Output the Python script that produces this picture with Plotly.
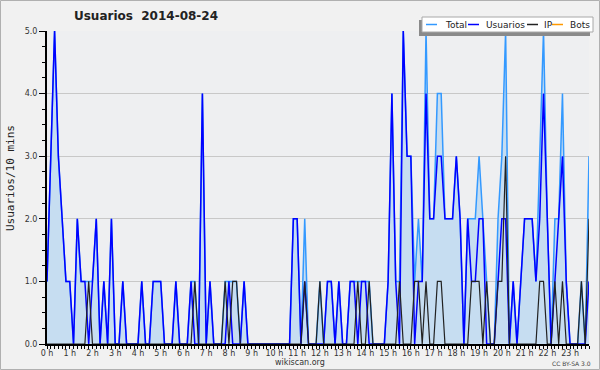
import plotly.graph_objects as go

# 10-minute slots over the day (144 slots)
slots = list(range(144))
hour_ticks = list(range(0, 144, 6))
hour_labels = [f"{h} h" for h in range(24)]

usuarios = [
    1, 3, 5, 3, 2, 1, 1, 0, 2, 1, 1, 0,
    1, 2, 0, 1, 0, 2, 0, 0, 1, 0, 0, 0,
    0, 1, 0, 0, 1, 1, 1, 0, 0, 0, 1, 0,
    0, 0, 1, 0, 0, 4, 0, 1, 0, 0, 0, 0,
    1, 0, 0, 0, 1, 0, 0, 0, 0, 0, 0, 0,
    0, 0, 0, 0, 0, 2, 2, 0, 1, 0, 0, 0,
    0, 0, 1, 1, 0, 1, 0, 0, 1, 1, 0, 1,
    1, 0, 0, 0, 0, 0, 1, 4, 1, 0, 5, 3,
    3, 0, 1, 1, 4, 2, 2, 3, 3, 2, 2, 2,
    3, 2, 0, 2, 1, 1, 2, 2, 0, 0, 0, 1,
    2, 2, 0, 1, 0, 1, 2, 2, 2, 1, 2, 4,
    2, 0, 1, 2, 3, 1, 0, 0, 0, 0, 0, 1,
]

ip = [
    0, 0, 0, 0, 0, 0, 0, 0, 0, 0, 0, 1,
    0, 0, 0, 0, 0, 0, 0, 0, 0, 0, 0, 0,
    0, 0, 0, 0, 0, 0, 0, 0, 0, 0, 0, 0,
    0, 0, 0, 1, 0, 0, 0, 0, 0, 0, 0, 1,
    0, 1, 1, 0, 0, 0, 0, 0, 0, 0, 0, 0,
    0, 0, 0, 0, 0, 0, 0, 0, 1, 0, 0, 0,
    1, 0, 0, 0, 0, 0, 0, 0, 0, 0, 1, 0,
    0, 1, 0, 0, 0, 0, 0, 0, 0, 1, 0, 0,
    0, 1, 1, 0, 1, 0, 0, 1, 1, 0, 0, 0,
    0, 0, 0, 0, 1, 1, 1, 0, 1, 0, 0, 1,
    1, 3, 0, 0, 0, 0, 0, 0, 0, 0, 1, 1,
    0, 0, 1, 0, 1, 0, 0, 0, 0, 1, 0, 2,
]

bots = [
    0, 0, 0, 0, 0, 0, 0, 0, 0, 0, 0, 0,
    0, 0, 0, 0, 0, 0, 0, 0, 0, 0, 0, 0,
    0, 0, 0, 0, 0, 0, 0, 0, 0, 0, 0, 0,
    0, 0, 0, 0, 0, 0, 0, 0, 0, 0, 0, 0,
    0, 0, 0, 0, 0, 0, 0, 0, 0, 0, 0, 0,
    0, 0, 0, 0, 0, 0, 0, 0, 0, 0, 0, 0,
    0, 0, 0, 0, 0, 0, 0, 0, 0, 0, 0, 0,
    0, 0, 0, 0, 0, 0, 0, 0, 0, 0, 0, 0,
    0, 0, 0, 0, 0, 0, 0, 0, 0, 0, 0, 0,
    0, 0, 0, 0, 0, 0, 0, 0, 0, 0, 0, 0,
    0, 0, 0, 0, 0, 0, 0, 0, 0, 0, 0, 0,
    0, 0, 0, 0, 0, 0, 0, 0, 0, 0, 0, 0,
]

total = [
    1, 3, 5, 3, 2, 1, 1, 0, 2, 1, 1, 1,
    1, 2, 0, 1, 0, 2, 0, 0, 1, 0, 0, 0,
    0, 1, 0, 0, 1, 1, 1, 0, 0, 0, 1, 0,
    0, 0, 1, 1, 0, 4, 0, 1, 0, 0, 0, 1,
    1, 1, 1, 0, 1, 0, 0, 0, 0, 0, 0, 0,
    0, 0, 0, 0, 0, 2, 2, 0, 2, 0, 0, 0,
    1, 0, 1, 1, 0, 1, 0, 0, 1, 1, 1, 1,
    1, 1, 0, 0, 0, 0, 1, 4, 1, 1, 5, 3,
    3, 1, 2, 1, 5, 2, 2, 4, 4, 2, 2, 2,
    3, 2, 0, 2, 2, 2, 3, 2, 1, 0, 0, 2,
    3, 5, 0, 1, 0, 1, 2, 2, 2, 1, 3, 5,
    2, 0, 2, 2, 4, 1, 0, 0, 0, 1, 0, 3,
]

series_names = ["Total", "Usuarios", "IP", "Bots"]
series_colors = ["#3399ff", "#0000ff", "#222222", "#ff9900"]

W, H = 600, 370
L, R, T, B = 47, 11, 31, 26
PW, PH = W - L - R, H - T - B


def px(x):
    return (x - L) / PW


def py(y):
    return (H - B - y) / PH


fig = go.Figure()
fig.add_trace(go.Scatter(x=slots, y=bots, mode="lines", name="Bots",
                         line=dict(color=series_colors[3], width=1.2), showlegend=False))
fig.add_trace(go.Scatter(x=slots, y=total, mode="lines", name="Total", fill="tozeroy",
                         fillcolor="#c6ddf1",
                         line=dict(color=series_colors[0], width=1.5), showlegend=False))
fig.add_trace(go.Scatter(x=slots, y=usuarios, mode="lines", name="Usuarios",
                         line=dict(color=series_colors[1], width=1.5), showlegend=False))
fig.add_trace(go.Scatter(x=slots, y=ip, mode="lines", name="IP",
                         line=dict(color=series_colors[2], width=1.2), showlegend=False))

font = "DejaVu Sans"

shapes = [
    # figure border
    dict(type="rect", xref="paper", yref="paper", x0=px(0.5), x1=px(599.5),
         y0=py(369.5), y1=py(0.5), line=dict(color="#b0b0b0", width=1), layer="above"),
    # legend shadow
    dict(type="rect", xref="paper", yref="paper", x0=px(419), x1=px(590),
         y0=py(36), y1=py(20), fillcolor="#8a8a8a", line=dict(width=0), layer="above"),
    # legend box
    dict(type="rect", xref="paper", yref="paper", x0=px(422), x1=px(593),
         y0=py(32), y1=py(17), fillcolor="#ffffff",
         line=dict(color="#a8a8a8", width=1), layer="above"),
]

annotations = []
legend_line_x = [426, 468, 527, 552]
legend_text_x = [443, 484, 542, 568]
for name, color, lx, tx in zip(series_names, series_colors, legend_line_x, legend_text_x):
    shapes.append(dict(type="line", xref="paper", yref="paper", x0=px(lx), x1=px(lx + 11),
                       y0=py(24.5), y1=py(24.5), line=dict(color=color, width=1.5),
                       layer="above"))
    annotations.append(dict(text=name, xref="paper", yref="paper", x=px(tx), y=py(24.5),
                            xanchor="left", yanchor="middle", showarrow=False,
                            font=dict(family=font, size=9, color="#222")))

annotations += [
    dict(text="Usuarios/10 mins", xref="paper", yref="paper", x=px(10), y=py(178),
         xanchor="center", yanchor="middle", showarrow=False, textangle=-90,
         font=dict(family="DejaVu Sans Mono", size=11, color="#222")),
    dict(text="wikiscan.org", xref="paper", yref="paper", x=px(300), y=py(362.5),
         xanchor="center", yanchor="middle", showarrow=False,
         font=dict(family=font, size=8, color="#333")),
    dict(text="CC BY-SA 3.0", xref="paper", yref="paper", x=px(571), y=py(363.5),
         xanchor="center", yanchor="middle", showarrow=False,
         font=dict(family=font, size=6, color="#444")),
]

fig.update_layout(
    width=W, height=H,
    margin=dict(l=L, r=R, t=T, b=B, pad=0),
    paper_bgcolor="#f1f1f1",
    plot_bgcolor="#eeeff1",
    title=dict(text="Usuarios\u00a0\u00a02014-08-24", x=146 / W, xanchor="center",
               xref="container", y=1 - 16 / H, yanchor="middle",
               font=dict(family=font, size=12, color="#222", weight="bold")),
    showlegend=False,
    shapes=shapes,
    annotations=annotations,
    xaxis=dict(range=[0, 143], tickmode="array", tickvals=hour_ticks, ticktext=hour_labels,
               ticks="outside", ticklen=3, tickcolor="black", tickwidth=1,
               ticklabelstandoff=-3,
               showline=True, linecolor="black", linewidth=2,
               showgrid=False, zeroline=False,
               tickfont=dict(family=font, size=8, color="#333"),
               minor=dict(dtick=1, tick0=0, ticks="outside", ticklen=3, tickcolor="black",
                          tickwidth=1, showgrid=False),
               fixedrange=True),
    yaxis=dict(range=[0, 5], tickmode="linear", tick0=0, dtick=1, tickformat=".1f",
               ticks="outside", ticklen=6, tickcolor="black", tickwidth=1,
               showline=True, linecolor="black", linewidth=2,
               showgrid=True, gridcolor="#c8c8c8", gridwidth=1, zeroline=False,
               tickfont=dict(family=font, size=8, color="#333"),
               minor=dict(dtick=0.25, ticks="outside", ticklen=3, tickcolor="black",
                          tickwidth=1, showgrid=False),
               fixedrange=True),
)

fig.write_html("out.html", config={"displayModeBar": False},
               post_script="document.body.style.margin='0';document.body.style.overflow='hidden';")
